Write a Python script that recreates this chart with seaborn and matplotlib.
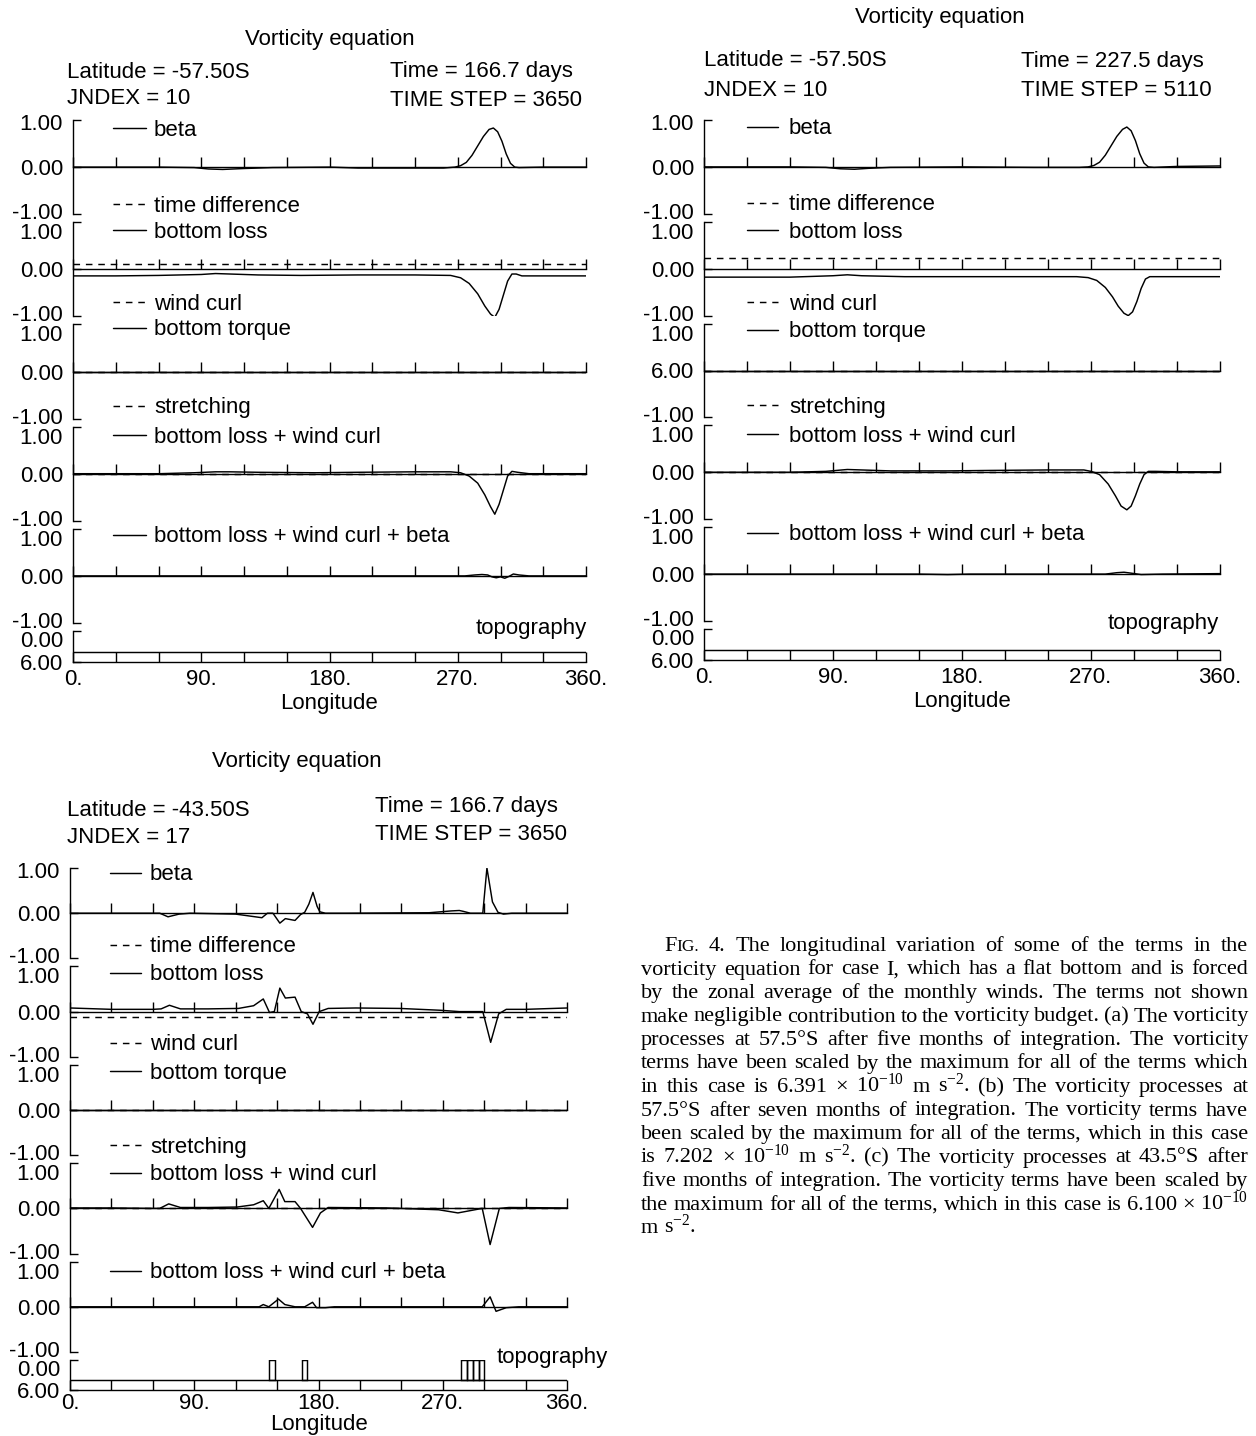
import numpy as np
import pandas as pd
import matplotlib
matplotlib.use("Agg")
import matplotlib.pyplot as plt
import matplotlib.transforms as mtransforms
import seaborn as sns

# ---------------- data ----------------
lon_major = [0, 90, 180, 270, 360]
lon_major_labels = ["0.", "90.", "180.", "270.", "360."]
lon_minor = [30, 60, 120, 150, 210, 240, 300, 330]
y_ticks = [-1, 0, 1]
y_tick_labels = ["-1.00", "0.00", "1.00"]
topo_ticks = [0, 6]
topo_tick_labels = ["0.00", "6.00"]

zero_lon = [0, 360]
zero_val = [0.0, 0.0]

# ----- (a) 57.5S, day 166.7 -----
a_beta_lon = [0, 30, 60, 85, 95, 105, 120, 140, 180, 200, 230, 260, 268, 272, 276, 280, 284, 288, 292, 295, 298, 301, 304, 307, 310, 313, 330, 360]
a_beta_val = [0, 0, 0, -0.01, -0.04, -0.05, -0.03, -0.01, 0, -0.02, -0.02, -0.02, 0.0, 0.03, 0.1, 0.25, 0.45, 0.65, 0.8, 0.83, 0.75, 0.55, 0.28, 0.08, 0.0, -0.01, 0.0, 0.0]
a_tdiff_lon = [0, 360]
a_tdiff_val = [0.11, 0.11]
a_bloss_lon = [0, 30, 60, 90, 100, 110, 130, 160, 200, 240, 265, 272, 278, 284, 289, 293, 296, 299, 302, 305, 308, 311, 315, 330, 360]
a_bloss_val = [-0.14, -0.14, -0.13, -0.11, -0.09, -0.1, -0.12, -0.13, -0.12, -0.12, -0.13, -0.18, -0.3, -0.52, -0.78, -0.95, -1.02, -0.85, -0.55, -0.25, -0.1, -0.1, -0.14, -0.14, -0.14]
a_blwc_lon = [0, 60, 85, 100, 110, 130, 170, 200, 240, 265, 272, 278, 284, 289, 293, 296, 299, 302, 305, 308, 312, 320, 360]
a_blwc_val = [0.0, 0.0, 0.02, 0.04, 0.04, 0.03, 0.02, 0.03, 0.04, 0.04, 0.02, -0.05, -0.2, -0.45, -0.7, -0.86, -0.65, -0.35, -0.05, 0.05, 0.03, 0.0, 0.0]
a_total_lon = [0, 275, 282, 287, 291, 294, 297, 300, 303, 306, 309, 313, 320, 360]
a_total_val = [0, 0, 0.02, 0.03, 0.02, -0.02, -0.04, -0.02, -0.05, -0.01, 0.04, 0.02, 0.0, 0]
a_topo_lon = [0, 360]
a_topo_depth = [4.0, 4.0]

# ----- (b) 57.5S, day 227.5 -----
b_beta_lon = [0, 60, 85, 95, 105, 115, 130, 180, 230, 262, 268, 272, 276, 280, 284, 288, 292, 295, 298, 301, 304, 307, 310, 314, 330, 360]
b_beta_val = [0, 0, -0.01, -0.04, -0.05, -0.03, -0.01, 0, -0.01, -0.01, 0.0, 0.03, 0.1, 0.25, 0.45, 0.65, 0.8, 0.85, 0.77, 0.56, 0.28, 0.08, 0.0, -0.01, 0.01, 0.02]
b_tdiff_lon = [0, 360]
b_tdiff_val = [0.22, 0.22]
b_bloss_lon = [0, 60, 90, 100, 110, 140, 200, 260, 268, 274, 280, 285, 289, 293, 296, 299, 302, 305, 308, 311, 314, 320, 360]
b_bloss_val = [-0.18, -0.18, -0.15, -0.13, -0.15, -0.17, -0.17, -0.17, -0.19, -0.25, -0.4, -0.6, -0.8, -0.95, -1.0, -0.92, -0.7, -0.42, -0.22, -0.17, -0.17, -0.17, -0.17]
b_blwc_lon = [0, 60, 85, 100, 110, 130, 170, 200, 240, 265, 270, 276, 282, 287, 291, 295, 298, 301, 304, 307, 310, 315, 330, 360]
b_blwc_val = [0, 0.0, 0.02, 0.06, 0.05, 0.03, 0.03, 0.04, 0.05, 0.05, 0.02, -0.05, -0.25, -0.5, -0.72, -0.8, -0.72, -0.5, -0.25, -0.05, 0.02, 0.02, 0.01, 0.01]
b_total_lon = [0, 150, 170, 185, 280, 288, 293, 298, 305, 320, 360]
b_total_val = [0, 0, -0.01, 0, 0, 0.03, 0.04, 0.02, -0.01, 0.0, 0.01]
b_topo_lon = [0, 360]
b_topo_depth = [4.0, 4.0]

# ----- (c) 43.5S, day 166.7 -----
c_beta_lon = [0, 30, 60, 65, 71, 79, 87, 120, 139, 143, 147, 152, 156, 163, 167, 170, 173, 176, 179, 181, 185, 200, 260, 268, 276, 282, 285, 290, 299, 302, 306, 310, 314, 320, 360]
c_beta_val = [0, 0, 0, 0, -0.08, -0.02, 0, -0.02, -0.1, 0.0, 0.0, -0.22, -0.12, -0.16, -0.03, 0.02, 0.2, 0.46, 0.15, 0.03, 0, 0, 0.01, 0.03, 0.05, 0.06, 0.04, 0.0, 0.0, 1.0, 0.25, 0.02, -0.02, 0.0, 0.0]
c_tdiff_lon = [0, 360]
c_tdiff_val = [-0.12, -0.12]
c_bloss_lon = [0, 30, 60, 66, 72, 80, 100, 122, 133, 140, 144.5, 148, 152, 156, 163, 167.5, 172, 176, 180.5, 187, 207, 239, 268, 282, 299, 304.7, 310.5, 316, 330, 360]
c_bloss_val = [0.08, 0.05, 0.05, 0.06, 0.14, 0.06, 0.06, 0.07, 0.13, 0.28, -0.02, 0.0, 0.52, 0.3, 0.32, 0.0, -0.05, -0.28, 0.0, 0.07, 0.08, 0.07, 0.03, 0.0, 0.0, -0.68, -0.05, 0.05, 0.05, 0.08]
c_blwc_lon = [0, 30, 60, 65, 71.5, 80, 100, 121, 133, 140, 144, 151.5, 155.6, 163, 167, 175.7, 181.4, 187, 230, 267, 281, 298.6, 304.3, 311, 318, 360]
c_blwc_val = [0.01, 0.01, 0.0, 0.0, 0.1, 0.02, 0.02, 0.03, 0.08, 0.17, 0.0, 0.42, 0.15, 0.15, 0.0, -0.42, -0.1, 0.02, 0.01, -0.03, -0.1, 0.0, -0.8, 0.0, 0.02, 0.01]
c_total_lon = [0, 130, 137, 140, 144, 151, 155.6, 163, 170, 175.7, 178.6, 185, 191.4, 290, 298.6, 304.3, 308.6, 316, 325, 360]
c_total_val = [0, 0, 0.0, 0.05, 0.0, 0.17, 0.05, 0.0, 0.0, 0.1, -0.02, -0.02, 0.0, 0.0, 0.0, 0.22, -0.1, -0.02, 0.0, 0.0]
c_topo_lon = [0, 360]
c_topo_depth = [4.0, 4.0]
c_ridge_lon = [144.0, 167.8, 283.4, 287.6, 291.8, 296.0]
c_ridge_depth = [0.0, 0.0, 0.0, 0.0, 0.0, 0.0]
c_ridge_width = 4.2

# ---------------- style ----------------
sns.set_theme(style="white")
plt.rcParams["font.family"] = ["Liberation Sans", "DejaVu Sans"]
plt.rcParams["mathtext.default"] = "regular"
for k in ["axes.edgecolor", "xtick.color", "ytick.color", "text.color", "axes.labelcolor"]:
    plt.rcParams[k] = "black"
plt.rcParams["axes.linewidth"] = 1.0

W, H = 1256, 1436
fig = plt.figure(figsize=(W / 100, H / 100), dpi=100)
fig.patch.set_facecolor("white")
FS = 16
FS_PX = FS * 100 / 72
SERIF = ["Liberation Serif", "DejaVu Serif"]
SOLID = "-"
DASH = (0, (4.5, 4))
LW = 1.05


def fx(p):
    return p / W


def fy(p):
    return 1 - p / H


def series_df(lon, val):
    return pd.DataFrame({"lon": lon, "val": val})


def legend_entry(line, label, x_px, y_px, hl_px, pad_px):
    fig.legend(handles=[line], labels=[label], loc="center left",
               bbox_to_anchor=(fx(x_px), fy(y_px)), bbox_transform=fig.transFigure,
               frameon=False, fontsize=FS, handlelength=hl_px / FS_PX,
               handletextpad=pad_px / FS_PX, borderpad=0, borderaxespad=0)


def ylabel_text(ax, yval, s, dy):
    tr = mtransforms.blended_transform_factory(ax.transAxes, ax.transData)
    tr = mtransforms.offset_copy(tr, fig=fig, x=-10, y=dy, units="dots")
    ax.text(0, yval, s, transform=tr, ha="right", va="center_baseline", fontsize=FS, clip_on=False)


def make_panel(cfg):
    left, right, top = cfg["left"], cfg["right"], cfg["top"]
    tb, th = cfg["topo_bottom"], cfg["topo_h"]
    gap = 8
    tt = tb - th
    h = (tt - top - 5 * gap) / 5
    hx, hl, pad = cfg["handle_x"], cfg["handle_len"], cfg["handle_pad"]
    for k, row in enumerate(cfg["rows"]):
        t = top + k * (h + gap)
        ax = fig.add_axes([fx(left), fy(t + h), (right - left) / W, h / H])
        ax.patch.set_alpha(0)
        for (label, style, lon, val, ly) in row:
            sns.lineplot(data=series_df(lon, val), x="lon", y="val", ax=ax, color="black",
                         linewidth=LW, linestyle=style, estimator=None, sort=False,
                         errorbar=None, legend=False)
            legend_entry(ax.lines[-1], label, hx, ly, hl, pad)
        ax.set_xlim(0, 360)
        ax.set_ylim(-1, 1)
        ax.set_xlabel("")
        ax.set_ylabel("")
        ax.spines["top"].set_visible(False)
        ax.spines["right"].set_visible(False)
        ax.spines["bottom"].set_position(("data", 0))
        ax.set_xticks(lon_major)
        ax.set_xticks(lon_minor, minor=True)
        ax.tick_params(axis="x", which="both", direction="in", length=7, width=1,
                       labelbottom=False, bottom=True)
        ax.set_yticks(y_ticks)
        ax.set_yticklabels([])
        ax.tick_params(axis="y", direction="in", length=6, width=1, left=True)
        labels = list(y_tick_labels)
        if k == cfg.get("typo_row", -1):
            labels[1] = "6.00"
        ylabel_text(ax, -1, labels[0], 3)
        ylabel_text(ax, 0, labels[1], 0)
        ylabel_text(ax, 1, labels[2], -2 if k == 0 else -9)
    # topography axis
    ax = fig.add_axes([fx(left), fy(tb), (right - left) / W, th / H])
    ax.patch.set_alpha(0)
    sns.lineplot(data=series_df(cfg["topo_lon"], cfg["topo_depth"]), x="lon", y="val", ax=ax,
                 color="black", linewidth=LW, estimator=None, sort=False, errorbar=None, legend=False)
    if cfg.get("ridge_lon") is not None:
        base = cfg["topo_depth"][0]
        ax.bar(cfg["ridge_lon"], [d - base for d in cfg["ridge_depth"]], bottom=base,
               width=cfg["ridge_width"], align="edge", fill=False, edgecolor="black", linewidth=LW)
    ax.set_xlim(0, 360)
    ax.set_ylim(6, 0)
    ax.spines["top"].set_visible(False)
    ax.spines["right"].set_visible(False)
    ax.set_xticks(lon_major)
    ax.set_xticklabels(lon_major_labels, fontsize=FS)
    ax.set_xticks(lon_minor, minor=True)
    ax.tick_params(axis="x", which="both", direction="in", length=7, width=1,
                   pad=cfg["tick_pad"], bottom=True)
    ax.set_yticks(topo_ticks)
    ax.set_yticklabels([])
    ax.tick_params(axis="y", direction="in", length=6, width=1, left=True)
    ylabel_text(ax, 0, topo_tick_labels[0], -8)
    ylabel_text(ax, 6, topo_tick_labels[1], 0)
    ax.set_xlabel("Longitude", fontsize=FS, labelpad=cfg["label_pad"])
    ax.set_ylabel("")
    tx, ty, tha = cfg["topo_label"]
    fig.text(fx(tx), fy(ty), "topography", ha=tha, va="center", fontsize=FS)
    # header texts
    for (s, x, y, ha) in cfg["texts"]:
        fig.text(fx(x), fy(y), s, ha=ha, va="center", fontsize=FS)


panel_a = dict(
    left=73, right=586, top=120, topo_bottom=662, topo_h=31, tick_pad=5, label_pad=2,
    handle_x=113, handle_len=33, handle_pad=8,
    rows=[
        [("beta", SOLID, a_beta_lon, a_beta_val, 130)],
        [("time difference", DASH, a_tdiff_lon, a_tdiff_val, 206),
         ("bottom loss", SOLID, a_bloss_lon, a_bloss_val, 232)],
        [("wind curl", DASH, zero_lon, zero_val, 304),
         ("bottom torque", SOLID, zero_lon, zero_val, 330)],
        [("stretching", DASH, zero_lon, zero_val, 408),
         ("bottom loss + wind curl", SOLID, a_blwc_lon, a_blwc_val, 437)],
        [("bottom loss + wind curl + beta", SOLID, a_total_lon, a_total_val, 537)],
    ],
    topo_lon=a_topo_lon, topo_depth=a_topo_depth,
    topo_label=(587, 628, "right"),
    texts=[("Vorticity equation", 330, 40, "center"),
           ("Latitude = -57.50S", 67, 72, "left"),
           ("JNDEX = 10", 67, 99, "left"),
           ("Time = 166.7 days", 390, 72, "left"),
           ("TIME STEP = 3650", 390, 101, "left")],
)

panel_b = dict(
    left=704, right=1220, top=120, topo_bottom=660, topo_h=31, tick_pad=5, label_pad=2,
    handle_x=747, handle_len=31, handle_pad=11, typo_row=2,
    rows=[
        [("beta", SOLID, b_beta_lon, b_beta_val, 129)],
        [("time difference", DASH, b_tdiff_lon, b_tdiff_val, 205),
         ("bottom loss", SOLID, b_bloss_lon, b_bloss_val, 232)],
        [("wind curl", DASH, zero_lon, zero_val, 304),
         ("bottom torque", SOLID, zero_lon, zero_val, 332)],
        [("stretching", DASH, zero_lon, zero_val, 407),
         ("bottom loss + wind curl", SOLID, b_blwc_lon, b_blwc_val, 436)],
        [("bottom loss + wind curl + beta", SOLID, b_total_lon, b_total_val, 535)],
    ],
    topo_lon=b_topo_lon, topo_depth=b_topo_depth,
    topo_label=(1219, 623, "right"),
    texts=[("Vorticity equation", 940, 17, "center"),
           ("Latitude = -57.50S", 704, 61, "left"),
           ("JNDEX = 10", 704, 90, "left"),
           ("Time = 227.5 days", 1021, 61, "left"),
           ("TIME STEP = 5110", 1021, 90, "left")],
)

panel_c = dict(
    left=70, right=567, top=868, topo_bottom=1390, topo_h=30, tick_pad=2, label_pad=0,
    handle_x=110, handle_len=31, handle_pad=9,
    rows=[
        [("beta", SOLID, c_beta_lon, c_beta_val, 875)],
        [("time difference", DASH, c_tdiff_lon, c_tdiff_val, 947),
         ("bottom loss", SOLID, c_bloss_lon, c_bloss_val, 975)],
        [("wind curl", DASH, zero_lon, zero_val, 1045),
         ("bottom torque", SOLID, zero_lon, zero_val, 1073)],
        [("stretching", DASH, zero_lon, zero_val, 1147),
         ("bottom loss + wind curl", SOLID, c_blwc_lon, c_blwc_val, 1175)],
        [("bottom loss + wind curl + beta", SOLID, c_total_lon, c_total_val, 1273)],
    ],
    topo_lon=c_topo_lon, topo_depth=c_topo_depth,
    ridge_lon=c_ridge_lon, ridge_depth=c_ridge_depth, ridge_width=c_ridge_width,
    topo_label=(497, 1358, "left"),
    texts=[("Vorticity equation", 297, 762, "center"),
           ("Latitude = -43.50S", 67, 810, "left"),
           ("JNDEX = 17", 67, 838, "left"),
           ("Time = 166.7 days", 375, 807, "left"),
           ("TIME STEP = 3650", 375, 834, "left")],
)

for cfg in (panel_a, panel_b, panel_c):
    make_panel(cfg)

# ---------------- caption (justified) ----------------
caption_lines = [
    "FIG. 4. The longitudinal variation of some of the terms in the",
    "vorticity equation for case I, which has a flat bottom and is forced",
    "by the zonal average of the monthly winds. The terms not shown",
    "make negligible contribution to the vorticity budget. (a) The vorticity",
    "processes at 57.5°S after five months of integration. The vorticity",
    "terms have been scaled by the maximum for all of the terms which",
    "in this case is 6.391 × $10^{-10}$ m $s^{-2}$. (b) The vorticity processes at",
    "57.5°S after seven months of integration. The vorticity terms have",
    "been scaled by the maximum for all of the terms, which in this case",
    "is 7.202 × $10^{-10}$ m $s^{-2}$. (c) The vorticity processes at 43.5°S after",
    "five months of integration. The vorticity terms have been scaled by",
    "the maximum for all of the terms, which in this case is 6.100 × $10^{-10}$",
    "m $s^{-2}$.",
]
CAP_FS = 16
cap_left, cap_right, cap_indent = 641, 1248, 664
cap_first_base, cap_step = 951, 23.5

renderer = fig.canvas.get_renderer()


def word_pieces(w):
    if w == "FIG.":
        return [("F", CAP_FS), ("IG.", CAP_FS * 0.78)]
    return [(w, CAP_FS)]


for i, line in enumerate(caption_lines):
    words = line.split(" ")
    yb = fy(cap_first_base + i * cap_step)
    x0 = cap_indent if i == 0 else cap_left
    items = []
    for w in words:
        arts = []
        width = 0.0
        for (s, size) in word_pieces(w):
            t = fig.text(0, yb, s, fontsize=size, family=SERIF, ha="left", va="baseline")
            wd = t.get_window_extent(renderer).width
            arts.append((t, width))
            width += wd
        items.append((arts, width))
    total = sum(wd for _, wd in items)
    last = i == len(caption_lines) - 1
    gap = 5.5 if (last or len(items) < 2) else (cap_right - x0 - total) / (len(items) - 1)
    x = x0
    for arts, wd in items:
        for t, off in arts:
            t.set_x(fx(x + off))
        x += wd + gap

fig.savefig("out.png", dpi=100, facecolor="white")
